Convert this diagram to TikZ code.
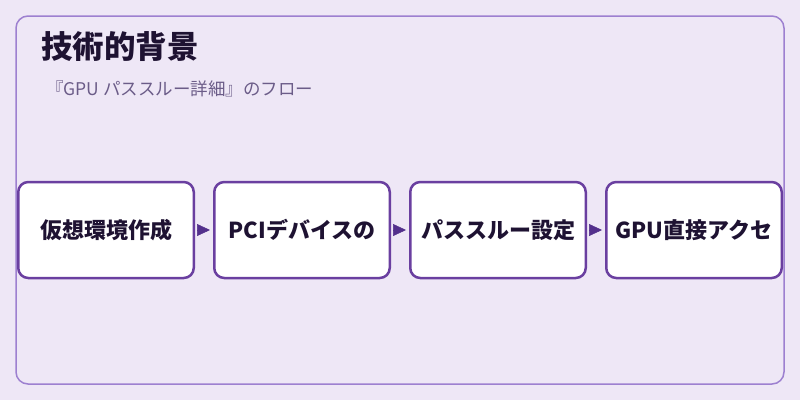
\documentclass[tikz,border=0pt]{standalone}
\usepackage{fontspec}
\setmainfont{Noto Sans CJK JP}
\usetikzlibrary{positioning,arrows.meta}
\definecolor{bgpurple}{HTML}{EEE7F6}
\definecolor{framepurple}{HTML}{9D80D0}
\definecolor{boxpurple}{HTML}{6A3FA0}
\definecolor{tippurple}{HTML}{53308C}
\definecolor{inkdark}{HTML}{1E1232}
\definecolor{subgray}{HTML}{6B5C88}
\begin{document}
\begin{tikzpicture}[x=1pt,y=-1pt,
    stepbox/.style={rectangle, rounded corners=10pt, draw=boxpurple, line width=2.5pt, fill=white,
      minimum width=175.5pt, minimum height=96pt, inner sep=0pt, font=\fontsize{22}{26}\selectfont\bfseries, text=inkdark},
    flow/.style={draw=tippurple, line width=0.5pt, -{Triangle[length=13pt,width=12pt]}, shorten <=2pt, shorten >=3pt}]
        % Background
        \fill[bgpurple] (0,0) rectangle (800,400);
        \draw[framepurple, line width=1.5pt, rounded corners=12pt] (16,16) rectangle (784,384);
        
        % Heading
        \node[anchor=west, inner sep=0pt, text=inkdark, font=\fontsize{31.5}{36}\selectfont\bfseries] (title) at (41,47) {技術的背景};
        \node[anchor=west, inner sep=0pt, text=subgray, font=\fontsize{17.5}{21}\selectfont] (subtitle) at (46,89) {『GPU パススルー詳細』のフロー};
        
        % Steps
        \node[stepbox] (create) at (106,230) {仮想環境作成};
        \node[stepbox, right=18pt of create] (device) {PCIデバイスの};
        \node[stepbox, right=18pt of device] (passthru) {パススルー設定};
        \node[stepbox, right=18pt of passthru] (access) {GPU直接アクセ};
        
        % Connections
        \draw[flow] (create) -- (device);
        \draw[flow] (device) -- (passthru);
        \draw[flow] (passthru) -- (access);
    \end{tikzpicture}
\end{document}
